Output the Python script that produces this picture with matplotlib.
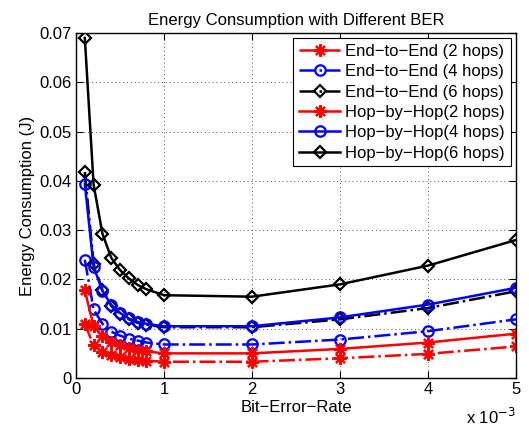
import matplotlib
matplotlib.use("Agg")
import matplotlib.pyplot as plt
from matplotlib.ticker import FuncFormatter

plt.rcParams["font.family"] = ["Liberation Sans", "DejaVu Sans"]

# ── Data (BER in units of 1e-3) ──────────────────────────────────────────────
ber = [0.1, 0.2, 0.3, 0.4, 0.5, 0.6, 0.7, 0.8, 1, 2, 3, 4, 5]

e2e_2 = [0.0110, 0.0066, 0.0053, 0.0047, 0.0042, 0.0038, 0.0036, 0.0035, 0.0033, 0.0033, 0.0040, 0.0049, 0.0064]
e2e_4 = [0.0240, 0.0139, 0.0110, 0.0094, 0.0086, 0.0080, 0.0076, 0.0072, 0.0068, 0.0068, 0.0078, 0.0095, 0.0119]
e2e_6 = [0.0418, 0.0232, 0.0178, 0.0146, 0.0130, 0.0119, 0.0112, 0.0108, 0.0103, 0.0103, 0.0119, 0.0142, 0.0176]
hbh_2 = [0.0178, 0.0105, 0.0085, 0.0074, 0.0067, 0.0061, 0.0057, 0.0054, 0.0050, 0.0050, 0.0059, 0.0072, 0.0090]
hbh_4 = [0.0394, 0.0226, 0.0176, 0.0149, 0.0132, 0.0121, 0.0114, 0.0110, 0.0105, 0.0105, 0.0123, 0.0149, 0.0183]
hbh_6 = [0.0690, 0.0392, 0.0293, 0.0244, 0.0219, 0.0202, 0.0189, 0.0180, 0.0168, 0.0165, 0.0190, 0.0228, 0.0280]

ASTERISK = (8, 2, 0)  # MATLAB-style '*' marker

series = [
    ("End\u2212to\u2212End (2 hops)", e2e_2, "red", ASTERISK, "-."),
    ("End\u2212to\u2212End (4 hops)", e2e_4, "blue", "o", "-."),
    ("End\u2212to\u2212End (6 hops)", e2e_6, "black", "D", "-."),
    ("Hop\u2212by\u2212Hop(2 hops)", hbh_2, "red", ASTERISK, "-"),
    ("Hop\u2212by\u2212Hop(4 hops)", hbh_4, "blue", "o", "-"),
    ("Hop\u2212by\u2212Hop(6 hops)", hbh_6, "black", "D", "-"),
]

FS = 12

fig = plt.figure(figsize=(5.29, 4.32), dpi=100, facecolor="white")
ax = fig.add_axes([0.1437, 0.125, 0.8317, 0.7986])

for label, vals, col, mk, ls in series:
    if mk == ASTERISK:
        ms = 9
    elif mk == "o":
        ms = 7.5
    else:
        ms = 6.5
    ax.plot(ber, vals, color=col, linestyle=ls, linewidth=1.8,
            marker=mk, markersize=ms, markerfacecolor="none",
            markeredgecolor=col, markeredgewidth=1.6, label=label)

ax.set_xlim(0, 5)
ax.set_ylim(0, 0.07)
ax.set_xticks([0, 1, 2, 3, 4, 5])
ax.set_yticks([0, 0.01, 0.02, 0.03, 0.04, 0.05, 0.06, 0.07])
ax.yaxis.set_major_formatter(FuncFormatter(lambda v, p: "0" if v == 0 else f"{v:.2f}"))
ax.xaxis.set_major_formatter(FuncFormatter(lambda v, p: f"{v:g}"))
ax.tick_params(direction="in", top=True, right=True, length=5, width=0.8,
               labelsize=FS, colors="black", pad=3)
ax.grid(True, color="#555555", linestyle=(0, (1, 3)), linewidth=0.7)
for sp in ax.spines.values():
    sp.set_linewidth(1.0)

ax.set_xlabel("Bit\u2212Error\u2212Rate", fontsize=FS, labelpad=2)
ax.set_ylabel("Energy Consumption (J)", fontsize=FS, labelpad=3)
ax.set_title("Energy Consumption with Different BER", fontsize=FS, pad=6)
ax.text(1.0, -0.085, "x 10$^{-3}$", transform=ax.transAxes,
        ha="right", va="top", fontsize=FS)

leg = ax.legend(loc="upper right", fontsize=FS, frameon=True, fancybox=False,
                edgecolor="black", framealpha=1, borderpad=0.35, labelspacing=0.32,
                handlelength=2.5, handletextpad=0.3, borderaxespad=0.3)
leg.get_frame().set_linewidth(0.8)

fig.savefig("out.png", dpi=100, facecolor="white")
